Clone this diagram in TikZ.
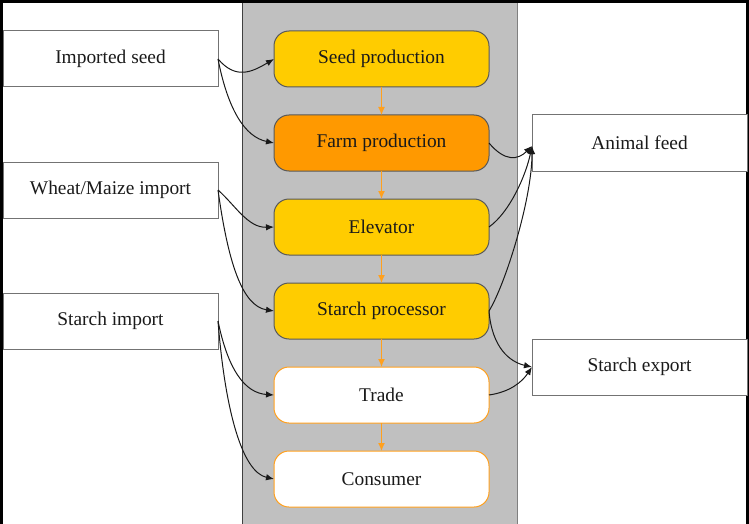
\documentclass[tikz,border=0pt]{standalone}
\usepackage{fontspec}
\setmainfont{Liberation Serif}
\usetikzlibrary{arrows.meta}
\definecolor{gold}{HTML}{FFCC00}
\definecolor{farm}{HTML}{FF9900}
\definecolor{ornline}{HTML}{FFA01E}
\definecolor{colgray}{HTML}{C0C0C0}
\definecolor{txt}{HTML}{1A1A1A}
\begin{document}
\begin{tikzpicture}[x=1pt,y=-1pt,
  every node/.style={font=\fontsize{19.4}{23}\selectfont, text=txt, inner sep=0pt, outer sep=0pt},
  sidebox/.style={draw=black!55, line width=1pt, fill=white, minimum width=215pt, minimum height=56pt},
  stagebox/.style={draw=black!65, line width=1pt, rounded corners=15pt, minimum width=215pt, minimum height=56pt},
  whitestage/.style={stagebox, draw=ornline, fill=white},
  conn/.style={draw=black!90, line width=1pt, -{Latex[length=8pt,width=6.5pt]}},
  flow/.style={draw=ornline, line width=1.3pt, -{Latex[length=8pt,width=7pt]}}]
\useasboundingbox (0,0) rectangle (749,524);
% gray column
\fill[colgray] (242,3) rectangle (517,524);
\draw[black!75, line width=1pt] (242,3) -- (242,524);
\draw[black!50, line width=1pt] (517,3) -- (517,524);
% frame
\draw[black, line width=3pt] (1.5,524) -- (1.5,1.5) -- (747.2,1.5) -- (747.2,524);
% left boxes
\node[sidebox] (imp) at (110.5,59) {Imported seed};
\node[sidebox] (wheat) at (110.5,190) {Wheat/Maize import};
\node[sidebox] (starchimp) at (110.5,321) {Starch import};
% stage boxes
\node[stagebox, fill=gold] (seed) at (381.5,59) {Seed production};
\node[stagebox, fill=farm] (farm) at (381.5,143) {Farm production};
\node[stagebox, fill=gold] (elev) at (381.5,227) {Elevator};
\node[stagebox, fill=gold] (proc) at (381.5,311) {Starch processor};
\node[whitestage] (trade) at (381.5,395) {Trade};
\node[whitestage] (cons) at (381.5,479) {Consumer};
% right boxes
\node[sidebox] (feed) at (639.5,143) {Animal feed};
\node[sidebox] (exp) at (639.5,367) {Starch export};
\coordinate (feedin) at (532,146);
\coordinate (expin) at (532,367);
% orange flow arrows
\draw[flow] (seed.south) -- (farm.north);
\draw[flow] (farm.south) -- (elev.north);
\draw[flow] (elev.south) -- (proc.north);
\draw[flow] (proc.south) -- (trade.north);
\draw[flow] (trade.south) -- (cons.north);
% left connectors
\draw[conn] (imp.east) .. controls (236,80) and (252,72) .. (seed.west);
\draw[conn] (imp.east) .. controls (228,110) and (245,137) .. (farm.west);
\draw[conn] (wheat.east) .. controls (235,205) and (248,228) .. (elev.west);
\draw[conn] (wheat.east) .. controls (228,262) and (242,306) .. (proc.west);
\draw[conn] (starchimp.east) .. controls (228,370) and (245,393) .. (trade.west);
\draw[conn] (starchimp.east) .. controls (225,410) and (242,472) .. (cons.west);
% right connectors
\draw[conn] (farm.east) .. controls (505,162) and (518,160) .. (feedin);
\draw[conn] (elev.east) .. controls (510,212) and (526,175) .. (feedin);
\draw[conn] (proc.east) .. controls (505,285) and (532,200) .. (feedin);
\draw[conn] (proc.east) .. controls (492,348) and (510,362) .. (expin);
\draw[conn] (trade.east) .. controls (510,392) and (522,382) .. (expin);
\end{tikzpicture}
\end{document}
